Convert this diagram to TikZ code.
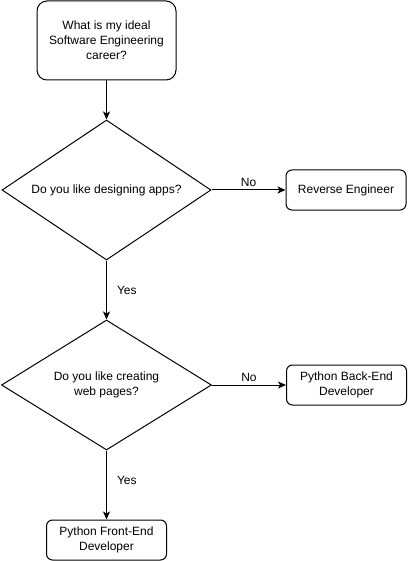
\documentclass[tikz,border=0pt]{standalone}
\usepackage{fontspec}
\setmainfont{Liberation Sans}
\usepackage{tikz}
\usetikzlibrary{arrows.meta,positioning,shapes.geometric}

\begin{document}
\begin{tikzpicture}[x=1pt,y=1pt,
    font=\fontsize{12}{15}\selectfont,
    box/.style={draw,line width=1pt,rounded corners=6pt,minimum width=120pt,minimum height=40pt,align=center,inner sep=2pt},
    dec/.style={draw,line width=1pt,diamond,aspect=1.5,inner sep=0pt,align=center},
    a/.style={-{Stealth[length=8pt,width=7pt,inset=2pt]},line width=1pt},
    lbl/.style={inner sep=2pt}]
    \useasboundingbox (0,0) rectangle (408,-561);
    \node[box,rounded corners=10pt,minimum width=139pt,minimum height=79pt] (start) at (106.5,-40.5) {What is my ideal\\Software Engineering\\career?};
    \node[dec,minimum width=209pt,minimum height=140pt,below=39pt of start] (apps) {Do you like designing apps?};
    \node[box,right=74pt of apps] (rev) {Reverse Engineer};
    \node[dec,minimum width=210pt,minimum height=130pt,below=59pt of apps] (web) {Do you like creating\\web pages?};
    \node[box,right=74pt of web] (back) {Python Back-End\\Developer};
    \node[box,below=69pt of web] (front) {Python Front-End\\Developer};
    \draw[a] (start)--(apps);
    \draw[a] (apps)--node[lbl,above=1pt]{No}(rev);
    \draw[a] (apps)--node[lbl,right=8pt]{Yes}(web);
    \draw[a] (web)--node[lbl,above=1pt]{No}(back);
    \draw[a] (web)--node[lbl,right=8pt,pos=0.43]{Yes}(front);
\end{tikzpicture}
\end{document}
